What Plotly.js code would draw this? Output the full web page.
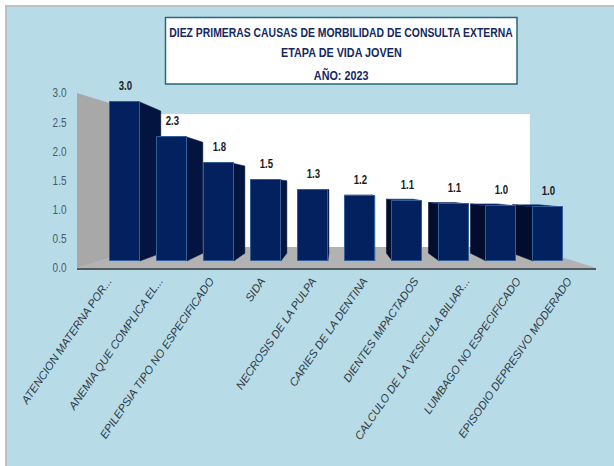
<!DOCTYPE html>
<html>
<head>
<meta charset="utf-8">
<script src="https://cdn.plot.ly/plotly-3.0.1.min.js"></script>
<style>html,body{margin:0;padding:0;background:#fff}#chart{width:614px;height:466px}</style>
</head>
<body>
<div id="chart"></div>
<script>
const categories = ["ATENCION MATERNA POR...","ANEMIA QUE COMPLICA EL...","EPILEPSIA TIPO NO ESPECIFICADO","SIDA","NECROSIS DE LA PULPA","CARIES DE LA DENTINA","DIENTES IMPACTADOS","CALCULO DE LA VESICULA BILIAR...","LUMBAGO NO ESPECIFICADO","EPISODIO DEPRESIVO MODERADO"];
const values = [3.0,2.34,1.84,1.53,1.34,1.23,1.14,1.07,1.04,1.02];
const yTicks = [0,0.5,1,1.5,2,2.5,3];
const titleLines = ["DIEZ PRIMERAS CAUSAS DE MORBILIDAD DE CONSULTA EXTERNA","ETAPA DE VIDA JOVEN","AÑO: 2023"];

const W = 614, H = 466;
const plot = {l:77, r:596, t:93, b:268};
const px = x => (x - plot.l) / (plot.r - plot.l);
const py = y => (plot.b - y) / (plot.b - plot.t);
const poly = pts => 'M' + pts.map(p => px(p[0]) + ',' + py(p[1])).join(' L') + ' Z';
const idx = categories.map((_, i) => i);

// Bars stand set back from the front plane, so they use their own scale.
const unitX = 47, unitY = 53, x0 = 125, y0 = 261;
const barRangeX = [(plot.l - x0) / unitX, (plot.r - x0) / unitX];
const barRangeY = [(y0 - plot.b) / unitY, (y0 - plot.t) / unitY];
const half = 0.315, k = 0.106;
const vanishX = (338 - x0) / unitX, vanishY = (y0 - 187) / unitY;
const back = (x, y) => [x + (vanishX - x) * k, y + (vanishY - y) * k];

const sideX = [], sideY = [], leftX = [], leftY = [], topX = [], topY = [];
values.forEach((v, i) => {
  const L = i - half, R = i + half;
  const e = i < 5.2 ? R : L;
  const a = back(e, v), b = back(e, 0);
  const tx = i < 5.2 ? sideX : leftX, ty = i < 5.2 ? sideY : leftY;
  tx.push(e, a[0], b[0], e, e, null);
  ty.push(v, a[1], b[1], 0, v, null);
  if (v < vanishY) {
    const p = back(L, v), q = back(R, v);
    topX.push(L, p[0], q[0], R, L, null);
    topY.push(v, p[1], q[1], v, v, null);
  }
});

const FAMILY = '"Liberation Sans",Arial,sans-serif';
const axisFont = {family:FAMILY, size:12.5, color:'#4b5a6b'};
const traces = [
  {type:'scatter', mode:'none', x:idx, y:values, xaxis:'x', yaxis:'y', hoverinfo:'skip', showlegend:false},
  {type:'scatter', mode:'lines', x:sideX, y:sideY, xaxis:'x2', yaxis:'y2', fill:'toself', fillcolor:'#02143f', line:{color:'#02143f', width:0.5}, hoverinfo:'skip', showlegend:false},
  {type:'scatter', mode:'lines', x:leftX, y:leftY, xaxis:'x2', yaxis:'y2', fill:'toself', fillcolor:'#020c2c', line:{color:'#020c2c', width:0.5}, hoverinfo:'skip', showlegend:false},
  {type:'scatter', mode:'lines', x:topX, y:topY, xaxis:'x2', yaxis:'y2', fill:'toself', fillcolor:'#042060', line:{color:'#042060', width:0.5}, hoverinfo:'skip', showlegend:false},
  {type:'bar', x:idx, y:values, xaxis:'x3', yaxis:'y3', width:half * 2, marker:{color:'#03215f', line:{color:'#2f5e98', width:1}}, showlegend:false}
];

const hiddenAxis = (range, over) => ({range:range, overlaying:over, visible:false, fixedrange:true});
const titleFont = {family:FAMILY, size:13.5, color:'#14285f', weight:'bold'};
const layout = {
  width:W, height:H,
  margin:{l:plot.l, r:W - plot.r, t:plot.t, b:H - plot.b, pad:0},
  paper_bgcolor:'#ffffff', plot_bgcolor:'rgba(0,0,0,0)',
  showlegend:false, bargap:0,
  title:{text:titleLines[0], x:341/W, xanchor:'center', y:1 - 32/H, yanchor:'middle', font:titleFont},
  xaxis:{range:[-0.6,9.55], tickmode:'array', tickvals:idx, ticktext:categories, tickangle:-55.5,
    tickfont:{family:FAMILY, size:11.2, color:'#2f3a45', style:'italic'},
    showgrid:false, zeroline:false, showline:true, linecolor:'#555a5e', linewidth:2, ticks:'', fixedrange:true},
  yaxis:{range:[0,3], tickmode:'array', tickvals:yTicks, ticktext:yTicks.map(t => t.toFixed(1)), tickfont:axisFont,
    showgrid:false, zeroline:false, showline:false, ticks:'outside', ticklen:7, tickcolor:'rgba(0,0,0,0)', fixedrange:true},
  xaxis2:hiddenAxis(barRangeX,'x'), yaxis2:hiddenAxis(barRangeY,'y'),
  xaxis3:hiddenAxis(barRangeX,'x'), yaxis3:hiddenAxis(barRangeY,'y'),
  shapes:[
    {type:'rect', xref:'paper', yref:'paper', x0:px(6), x1:px(W+5), y0:py(H+5), y1:py(6), fillcolor:'#b7dce8', line:{color:'#bfc1c3', width:2}, layer:'below'},
    {type:'path', xref:'paper', yref:'paper', path:poly([[145,114],[530,114],[530,247],[145,247]]), fillcolor:'#ffffff', line:{width:0}, layer:'below'},
    {type:'path', xref:'paper', yref:'paper', path:poly([[77,93],[145,114],[145,247],[77,268]]), fillcolor:'#a8a8a8', line:{width:0}, layer:'below'},
    {type:'path', xref:'paper', yref:'paper', path:poly([[77,268],[145,247],[530,247],[596,268]]), fillcolor:'#b2b2b2', line:{width:0}, layer:'below'},
    {type:'rect', xref:'paper', yref:'paper', x0:px(165.5), x1:px(517), y0:py(84), y1:py(17.5), fillcolor:'#ffffff', line:{color:'#2b6778', width:1.5}, layer:'below'}
  ],
  annotations: values.map((v, i) => ({
    xref:'x3', yref:'y3', x:i, y:v, yshift:16, yanchor:'middle', xanchor:'center', showarrow:false,
    text:v.toFixed(1), font:{family:FAMILY, size:12, color:'#1c1c1c', weight:'bold'}
  })).concat(titleLines.slice(1).map((t, i) => ({
    xref:'paper', yref:'paper', x:px(341), y:py(53 + i * 22), xanchor:'center', yanchor:'middle', showarrow:false,
    text:t, font:titleFont
  })))
};
// The reference uses a narrow face; squeeze the real text horizontally to match.
function squeeze(root, selector, factor) {
  root.querySelectorAll(selector).forEach(t => {
    const len = t.getComputedTextLength();
    t.setAttribute('textLength', (len * factor).toFixed(1));
    t.setAttribute('lengthAdjust', 'spacingAndGlyphs');
  });
}
Plotly.newPlot('chart', traces, layout, {displayModeBar:false, responsive:false}).then(gd => {
  squeeze(gd, '.gtitle', 0.77);
  squeeze(gd, '.annotation-text', 0.8);
  squeeze(gd, '.ytick text', 0.8);
  gd.querySelectorAll('.xtick text').forEach(t => { t.style.fontStyle = 'italic'; });
});
</script>
</body>
</html>
